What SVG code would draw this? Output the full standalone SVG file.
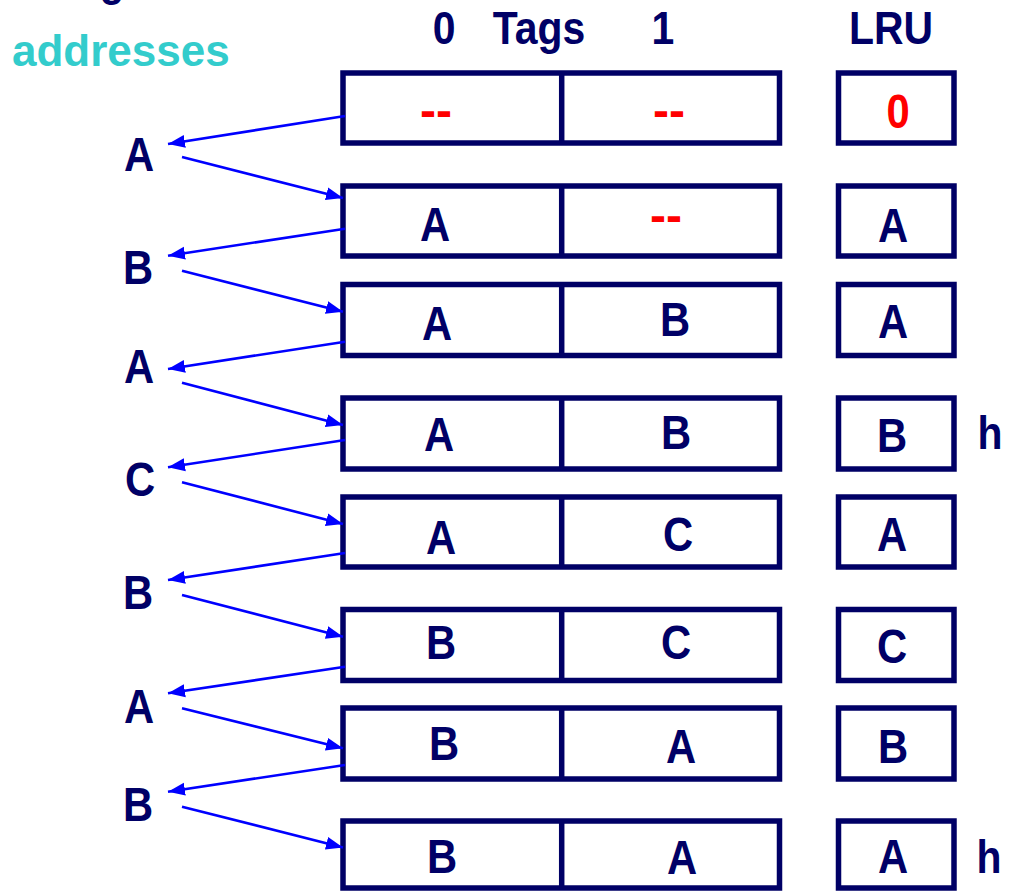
<svg xmlns="http://www.w3.org/2000/svg" width="1014" height="892" viewBox="0 0 1014 892">
  <style>
    .cell { fill: #ffffff; stroke: #000066; stroke-width: 5.5; }
    .div { stroke: #000066; stroke-width: 5.5; }
    .lbl, .head { font-family: "Liberation Sans", Arial, sans-serif; font-weight: bold; fill: #000066; transform-box: fill-box; transform-origin: center; transform: scaleX(0.87); }
    .lbl { font-size: 48px; text-anchor: middle; }
    .head { font-size: 47px; text-anchor: middle; }
    .empty { font-family: "Liberation Sans", Arial, sans-serif; font-weight: bold; font-size: 48px; fill: #ff0000; text-anchor: middle; }
    .zero { transform-box: fill-box; transform-origin: center; transform: scaleX(0.87); }
    .teal { font-family: "Liberation Sans", Arial, sans-serif; font-weight: bold; font-size: 44px; fill: #33cccc; }
    .arrow { stroke: #0000ff; stroke-width: 2.6; fill: none; marker-end: url(#head); }
  </style>
  <defs>
    <marker id="head" markerUnits="userSpaceOnUse" markerWidth="18" markerHeight="14" refX="17" refY="7" orient="auto">
      <path d="M0,0.5 L17,7 L0,13.5 Z" fill="#0000ff"/>
    </marker>
  </defs>

  <rect width="1014" height="892" fill="#ffffff"/>

  <!-- headings -->
  <g id="headings">
    <text class="head" x="112" y="-5">g</text>
    <text class="teal" x="12" y="66">addresses</text>
    <text class="head" x="444" y="44">0</text>
    <text class="head" x="539" y="44">Tags</text>
    <text class="head" x="663" y="44">1</text>
    <text class="head" x="891" y="44">LRU</text>
  </g>

  <!-- address sequence -->
  <g id="addresses">
    <text class="lbl" x="139" y="171">A</text>
    <text class="lbl" x="138" y="284">B</text>
    <text class="lbl" x="139" y="383">A</text>
    <text class="lbl" x="140" y="496">C</text>
    <text class="lbl" x="138" y="609">B</text>
    <text class="lbl" x="139" y="723">A</text>
    <text class="lbl" x="138" y="821">B</text>
  </g>

  <!-- cache states: two tag ways plus LRU bit -->
  <g id="state1">
    <rect class="cell" x="343" y="73" width="436.5" height="70"/>
    <line class="div" x1="561.7" y1="73" x2="561.7" y2="143"/>
    <rect class="cell" x="838.5" y="73" width="115.5" height="70"/>
    <text class="empty" x="436" y="127">--</text>
    <text class="empty" x="669" y="127">--</text>
    <text class="empty zero" x="898" y="128">0</text>
  </g>

  <g id="state2">
    <rect class="cell" x="343" y="186" width="436.5" height="70"/>
    <line class="div" x1="561.7" y1="186" x2="561.7" y2="256"/>
    <rect class="cell" x="838.5" y="186" width="115.5" height="70"/>
    <text class="lbl" x="435" y="241">A</text>
    <text class="empty" x="666" y="232">--</text>
    <text class="lbl" x="893" y="242">A</text>
  </g>

  <g id="state3">
    <rect class="cell" x="343" y="284.5" width="436.5" height="71"/>
    <line class="div" x1="561.7" y1="284.5" x2="561.7" y2="355.5"/>
    <rect class="cell" x="838.5" y="284.5" width="115.5" height="71"/>
    <text class="lbl" x="437" y="340">A</text>
    <text class="lbl" x="675" y="336">B</text>
    <text class="lbl" x="893" y="338">A</text>
  </g>

  <g id="state4">
    <rect class="cell" x="343" y="398" width="436.5" height="71"/>
    <line class="div" x1="561.7" y1="398" x2="561.7" y2="469"/>
    <rect class="cell" x="838.5" y="398" width="115.5" height="71"/>
    <text class="lbl" x="439" y="451">A</text>
    <text class="lbl" x="676" y="449">B</text>
    <text class="lbl" x="892" y="452">B</text>
    <text class="head" x="990" y="449">h</text>
  </g>

  <g id="state5">
    <rect class="cell" x="343" y="497" width="436.5" height="70"/>
    <line class="div" x1="561.7" y1="497" x2="561.7" y2="567"/>
    <rect class="cell" x="838.5" y="497" width="115.5" height="70"/>
    <text class="lbl" x="441" y="554">A</text>
    <text class="lbl" x="678" y="551">C</text>
    <text class="lbl" x="892" y="551">A</text>
  </g>

  <g id="state6">
    <rect class="cell" x="343" y="609.5" width="436.5" height="71"/>
    <line class="div" x1="561.7" y1="609.5" x2="561.7" y2="680.5"/>
    <rect class="cell" x="838.5" y="609.5" width="115.5" height="71"/>
    <text class="lbl" x="441" y="659">B</text>
    <text class="lbl" x="676" y="659">C</text>
    <text class="lbl" x="892" y="663">C</text>
  </g>

  <g id="state7">
    <rect class="cell" x="343" y="708" width="436.5" height="71"/>
    <line class="div" x1="561.7" y1="708" x2="561.7" y2="779"/>
    <rect class="cell" x="838.5" y="708" width="115.5" height="71"/>
    <text class="lbl" x="444" y="760">B</text>
    <text class="lbl" x="681" y="763">A</text>
    <text class="lbl" x="893" y="763">B</text>
  </g>

  <g id="state8">
    <rect class="cell" x="343" y="821" width="436.5" height="67"/>
    <line class="div" x1="561.7" y1="821" x2="561.7" y2="888"/>
    <rect class="cell" x="838.5" y="821" width="115.5" height="67"/>
    <text class="lbl" x="442" y="873">B</text>
    <text class="lbl" x="682" y="874">A</text>
    <text class="lbl" x="893" y="873">A</text>
    <text class="head" x="989" y="873">h</text>
  </g>

  <!-- access arrows: state -> address -> next state -->
  <g id="connectors">
    <line class="arrow" x1="345" y1="116" x2="168" y2="144"/>
    <line class="arrow" x1="182" y1="157" x2="343" y2="198"/>
    <line class="arrow" x1="345" y1="228.7" x2="168" y2="255.7"/>
    <line class="arrow" x1="182" y1="270.7" x2="343" y2="311.7"/>
    <line class="arrow" x1="345" y1="341.7" x2="168" y2="369"/>
    <line class="arrow" x1="182" y1="382.7" x2="343" y2="425"/>
    <line class="arrow" x1="345" y1="440" x2="168" y2="467.3"/>
    <line class="arrow" x1="182" y1="482.3" x2="343" y2="524"/>
    <line class="arrow" x1="345" y1="553" x2="168" y2="580"/>
    <line class="arrow" x1="182" y1="595" x2="343" y2="636.7"/>
    <line class="arrow" x1="345" y1="666.7" x2="168" y2="693.3"/>
    <line class="arrow" x1="182" y1="708.3" x2="343" y2="748.3"/>
    <line class="arrow" x1="345" y1="765" x2="168" y2="791.7"/>
    <line class="arrow" x1="182" y1="806.7" x2="343" y2="847.5"/>
  </g>
</svg>
